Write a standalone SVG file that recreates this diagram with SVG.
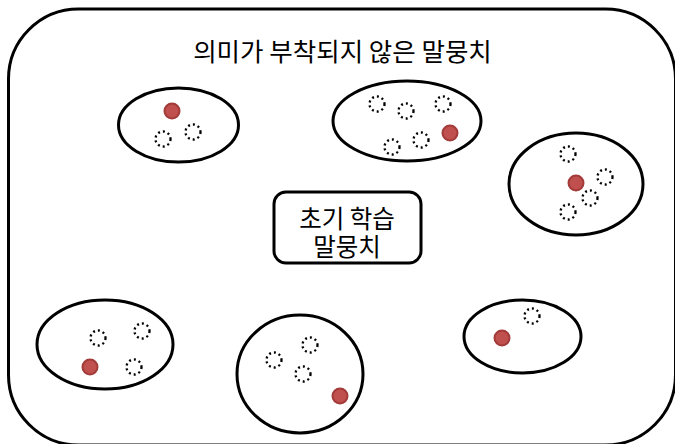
<svg xmlns="http://www.w3.org/2000/svg" width="675" height="444" viewBox="0 0 675 444">
<style>
.outer{fill:#fff;stroke:#000;stroke-width:3}
.grp{fill:#fff;stroke:#000;stroke-width:3}
.dot{fill:none;stroke:#000;stroke-width:2.3;stroke-dasharray:2 3}
.red{fill:#c0504d;stroke:#a23b39;stroke-width:2}
.t{font-family:"Noto Sans CJK KR","Noto Sans",sans-serif;fill:#000;text-anchor:middle}
</style>
<rect width="675" height="444" fill="#fff"/>
<g id="corpus">
<rect class="outer" x="8.5" y="9" width="667" height="436" rx="70" ry="70"/>
<text class="t" x="342.5" y="61" font-size="25.5">의미가 부착되지 않은 말뭉치</text>
</g>
<g id="cluster1">
<ellipse class="grp" cx="178.5" cy="125" rx="60" ry="37"/>
<circle class="red" cx="172" cy="111" r="7.5"/>
<circle class="dot" cx="163" cy="139" r="7.5"/>
<circle class="dot" cx="193" cy="132" r="7.5"/>
</g>
<g id="cluster2">
<ellipse class="grp" cx="407" cy="121" rx="74" ry="40"/>
<circle class="dot" cx="377" cy="104" r="7.5"/>
<circle class="dot" cx="406" cy="111" r="7.5"/>
<circle class="dot" cx="443" cy="104" r="7.5"/>
<circle class="dot" cx="392" cy="147" r="7.5"/>
<circle class="dot" cx="421" cy="140" r="7.5"/>
<circle class="red" cx="450" cy="133" r="7.5"/>
</g>
<g id="cluster3">
<ellipse class="grp" cx="576" cy="184" rx="67" ry="51"/>
<circle class="dot" cx="568" cy="154" r="7.5"/>
<circle class="dot" cx="605" cy="177" r="7.5"/>
<circle class="dot" cx="590" cy="198" r="7.5"/>
<circle class="dot" cx="568" cy="212" r="7.5"/>
<circle class="red" cx="576" cy="183" r="7.5"/>
</g>
<g id="seed">
<rect class="grp" x="274" y="192" width="147" height="71" rx="12" ry="12"/>
<text class="t" font-size="24.5"><tspan x="347" y="228">초기 학습</tspan><tspan x="347" y="256">말뭉치</tspan></text>
</g>
<g id="cluster4">
<ellipse class="grp" cx="105" cy="344.5" rx="68" ry="44.5"/>
<circle class="dot" cx="98" cy="338" r="7.5"/>
<circle class="dot" cx="142" cy="331" r="7.5"/>
<circle class="dot" cx="134" cy="367" r="7.5"/>
<circle class="red" cx="90" cy="367" r="7.5"/>
</g>
<g id="cluster5">
<ellipse class="grp" cx="300" cy="374" rx="63" ry="59"/>
<circle class="dot" cx="274" cy="360" r="7.5"/>
<circle class="dot" cx="310" cy="345" r="7.5"/>
<circle class="dot" cx="303" cy="374" r="7.5"/>
<circle class="red" cx="340" cy="396" r="7.5"/>
</g>
<g id="cluster6">
<ellipse class="grp" cx="522.5" cy="336.5" rx="58.5" ry="36.5"/>
<circle class="dot" cx="532" cy="316" r="7.5"/>
<circle class="red" cx="502" cy="338" r="7.5"/>
</g>
<g id="connectors"></g>
</svg>
